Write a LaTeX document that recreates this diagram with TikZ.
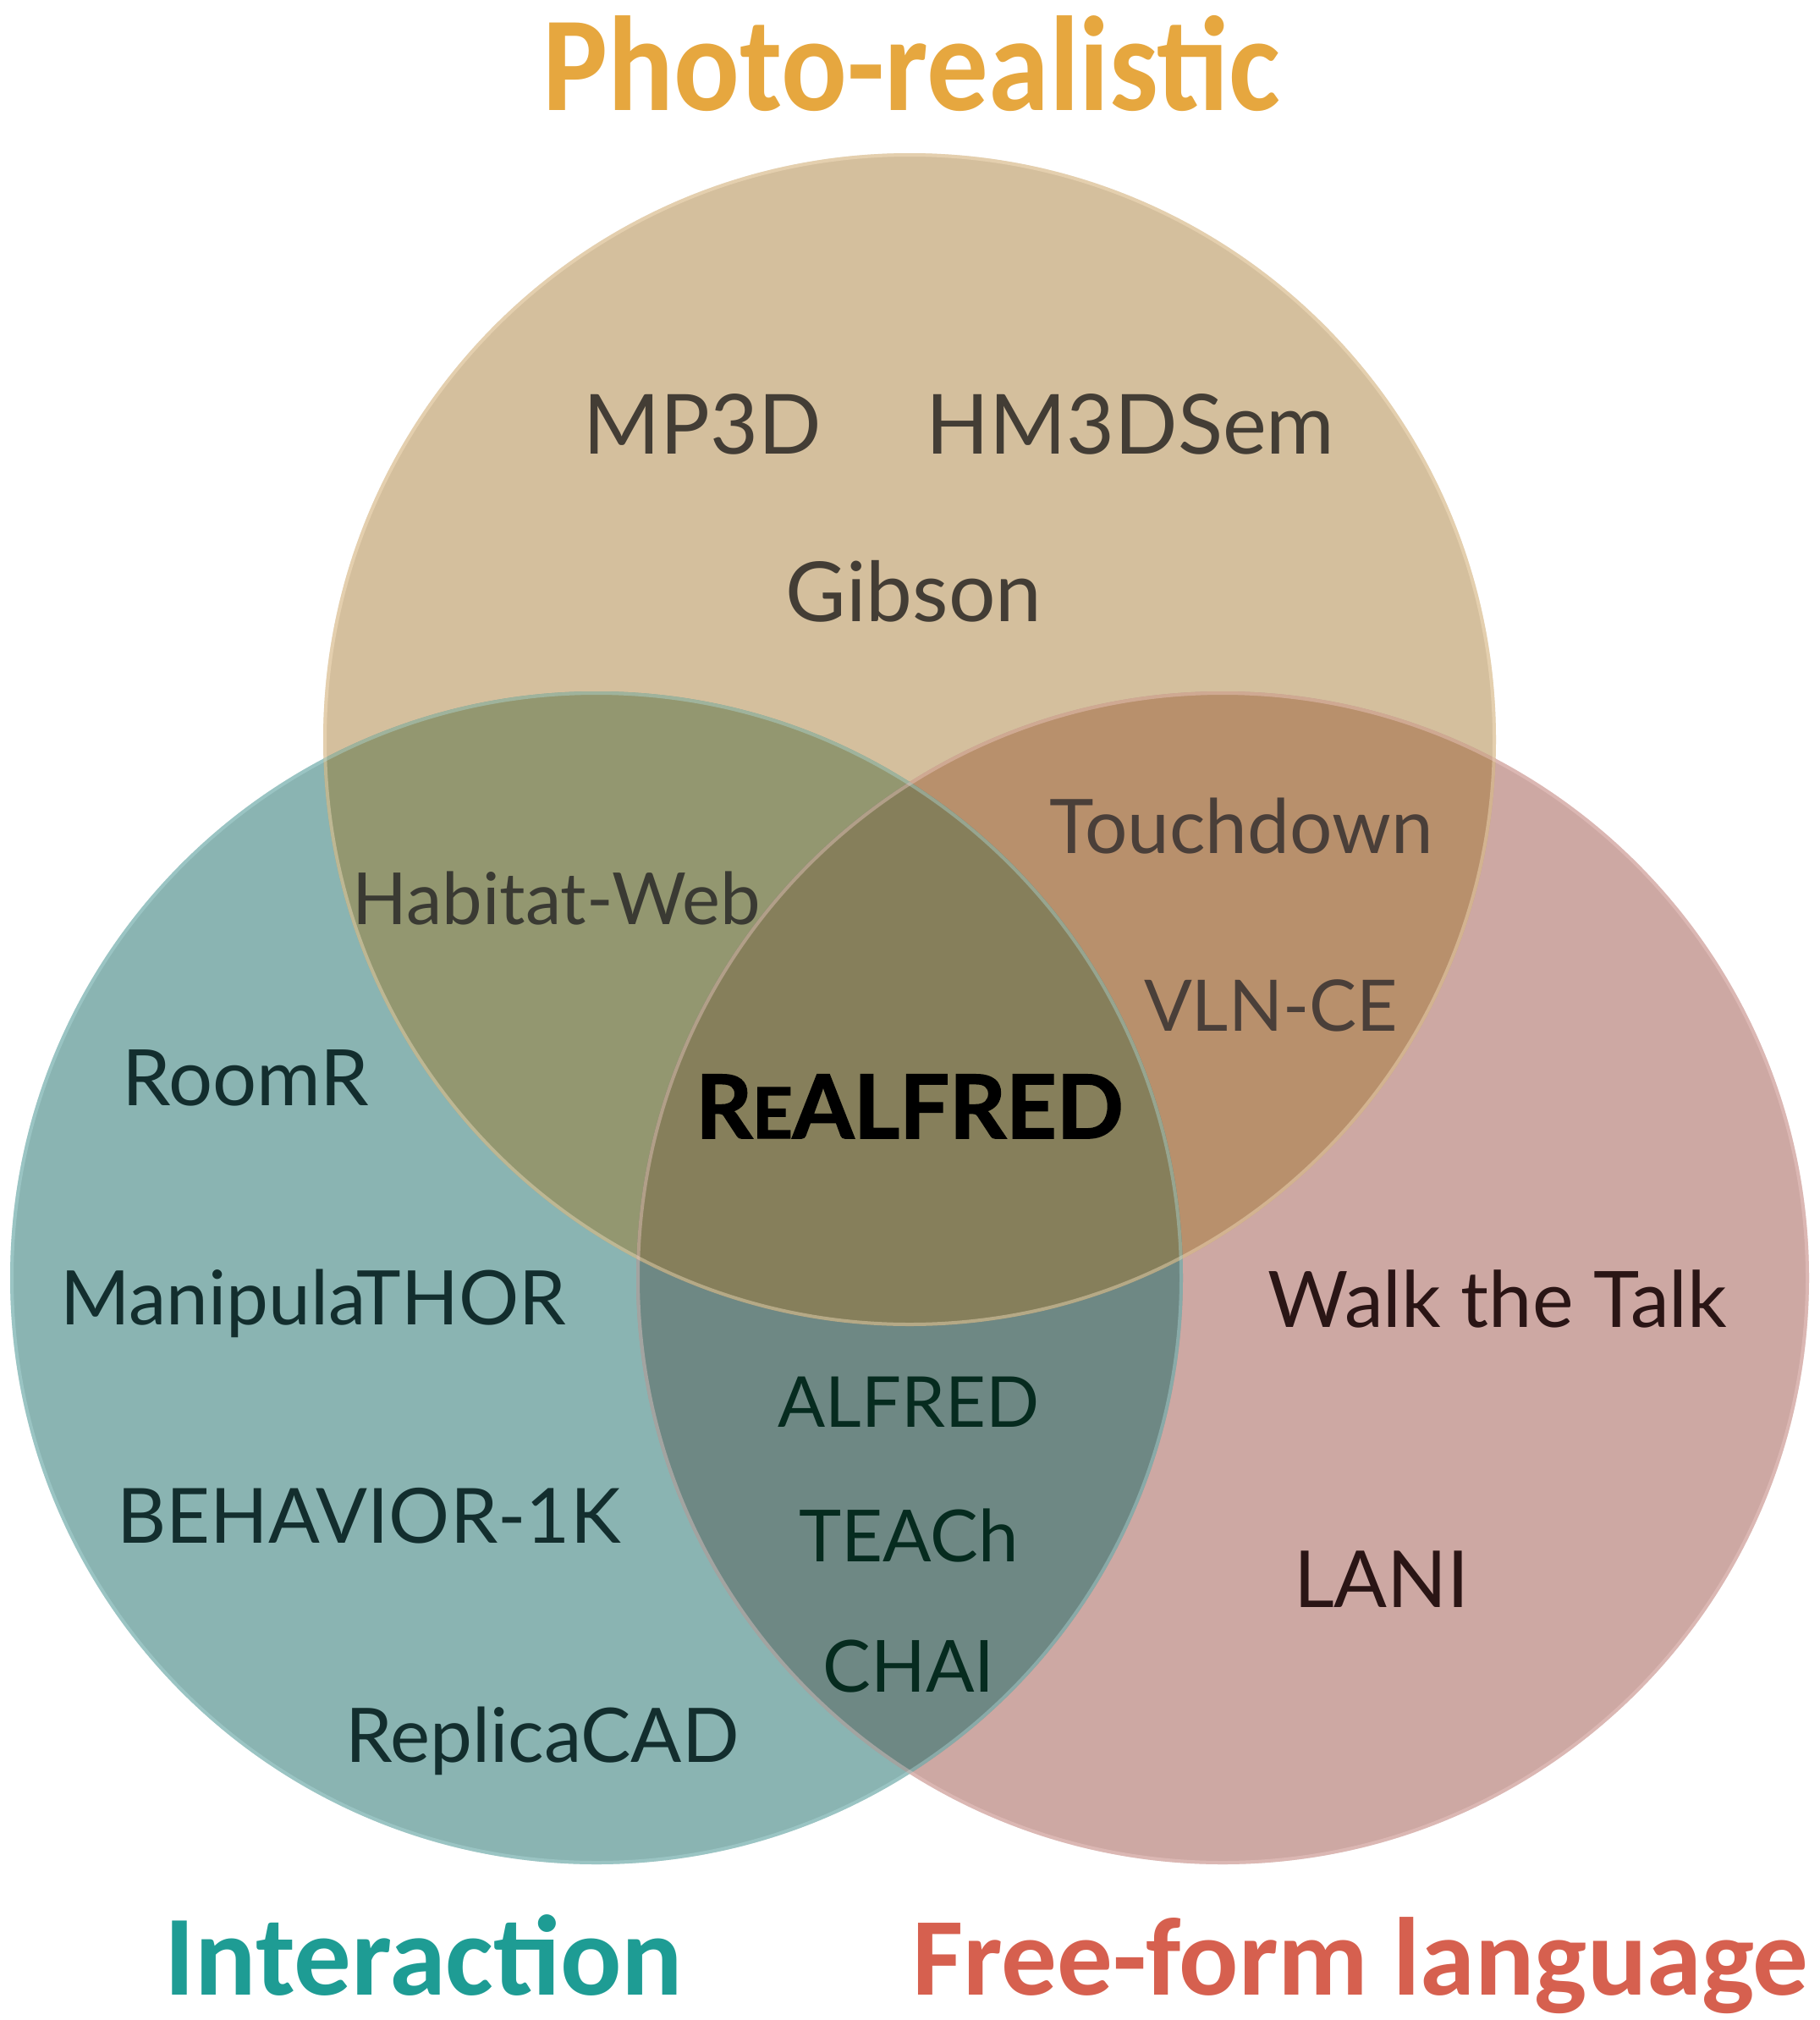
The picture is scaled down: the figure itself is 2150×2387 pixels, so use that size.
\documentclass[tikz,border=0pt]{standalone}
\usepackage{fontspec}
\setmainfont{Lato}
\newfontfamily\heavylato{Lato}[BoldFeatures={FakeBold=1.6}]
\newfontfamily\titlefont{Carlito}
\definecolor{Tonly}{HTML}{D4BF9D}
\definecolor{Lonly}{HTML}{8AB4B2}
\definecolor{Ronly}{HTML}{CDA8A3}
\definecolor{TLc}{HTML}{939770}
\definecolor{TRc}{HTML}{B8906C}
\definecolor{LRc}{HTML}{6E8884}
\definecolor{TLRc}{HTML}{867F5B}
\definecolor{Trim}{HTML}{FCE8C8}
\definecolor{Lrim}{HTML}{B2DEDE}
\definecolor{Rrim}{HTML}{F2CFCD}
\definecolor{txtT}{HTML}{433D35}
\definecolor{txtTL}{HTML}{3A3A33}
\definecolor{txtTR}{HTML}{4A3F39}
\definecolor{txtL}{HTML}{132E2E}
\definecolor{txtR}{HTML}{2A1515}
\definecolor{txtLR}{HTML}{062B1F}
\definecolor{titT}{HTML}{E6A73F}
\definecolor{titL}{HTML}{1E9C94}
\definecolor{titR}{HTML}{D6604F}
\newcommand\fsz[1]{\fontsize{#1}{#1}\selectfont}
\tikzset{
  lbl/.style={anchor=base, inner sep=0pt, font=\fsz{98}},
  ttl/.style={anchor=base, inner sep=0pt},
  rimstroke/.style={line width=4pt, opacity=0.4}
}
\begin{document}
\begin{tikzpicture}[x=1pt,y=-1pt]
\useasboundingbox (0,0) rectangle (2150,2387);
\def\rr{693}
\coordinate (cT) at (1075,874);
\coordinate (cL) at (705,1510);
\coordinate (cR) at (1445,1510);
% single regions
\fill[Tonly] (cT) circle[radius=\rr];
\fill[Lonly] (cL) circle[radius=\rr];
\fill[Ronly] (cR) circle[radius=\rr];
% pairwise
\begin{scope}
  \clip (cT) circle[radius=\rr];
  \fill[TLc] (cL) circle[radius=\rr];
  \fill[TRc] (cR) circle[radius=\rr];
\end{scope}
\begin{scope}
  \clip (cL) circle[radius=\rr];
  \fill[LRc] (cR) circle[radius=\rr];
\end{scope}
\begin{scope}
  \clip (cT) circle[radius=\rr];
  \clip (cL) circle[radius=\rr];
  \fill[TLRc] (cR) circle[radius=\rr];
\end{scope}
% rims
\draw[rimstroke, Trim] (cT) circle[radius=\rr-2];
\draw[rimstroke, Lrim] (cL) circle[radius=\rr-2];
\draw[rimstroke, Rrim] (cR) circle[radius=\rr-2];
% titles
\node[ttl, titT, yscale=1.1, font=\titlefont\bfseries\fsz{145}] (tphoto) at (1077,131) {Photo-realistic};
\node[ttl, titL, font=\titlefont\bfseries\fsz{135}] (tinter) at (501,2357) {Interaction};
\node[ttl, titR, font=\titlefont\bfseries\fsz{131}] (tfree) at (1608,2357) {Free-form language};
% labels
\node[lbl, txtT] (mp3d) at (830,536) {MP3D};
\node[lbl, txtT] (hm3d) at (1336,536) {HM3DSem};
\node[lbl, txtT] (gibson) at (1080,734) {Gibson};
\node[lbl, txtTR, font=\fsz{89}] (touch) at (1467,1008) {Touchdown};
\node[lbl, txtTL, font=\fsz{85}] (habitat) at (658,1092) {Habitat-Web};
\node[lbl, txtTR, font=\fsz{84}] (vlnce) at (1502,1218) {VLN-CE};
\node[lbl, txtL, font=\fsz{92}] (roomr) at (290,1306) {RoomR};
\node[anchor=base, inner sep=0pt, font=\heavylato\bfseries\fsz{104}] (realfred) at (1075,1345) {R{\fsz{83}E}ALFRED};
\node[lbl, txtL, font=\fsz{89}] (manip) at (370,1565) {ManipulaTHOR};
\node[lbl, txtR, font=\fsz{92}] (walk) at (1770,1568) {Walk the Talk};
\node[lbl, txtLR, font=\fsz{83}] (alfred) at (1074,1686) {ALFRED};
\node[lbl, txtL, font=\fsz{90}] (behav) at (436,1823) {BEHAVIOR-1K};
\node[lbl, txtLR, font=\fsz{85}] (teach) at (1074,1845) {TEACh};
\node[lbl, txtR, font=\fsz{93}] (lani) at (1633,1899) {LANI};
\node[lbl, txtLR, font=\fsz{85}] (chai) at (1074,1999) {CHAI};
\node[lbl, txtL, font=\fsz{89}] (replica) at (641,2082) {ReplicaCAD};
\end{tikzpicture}
\end{document}
